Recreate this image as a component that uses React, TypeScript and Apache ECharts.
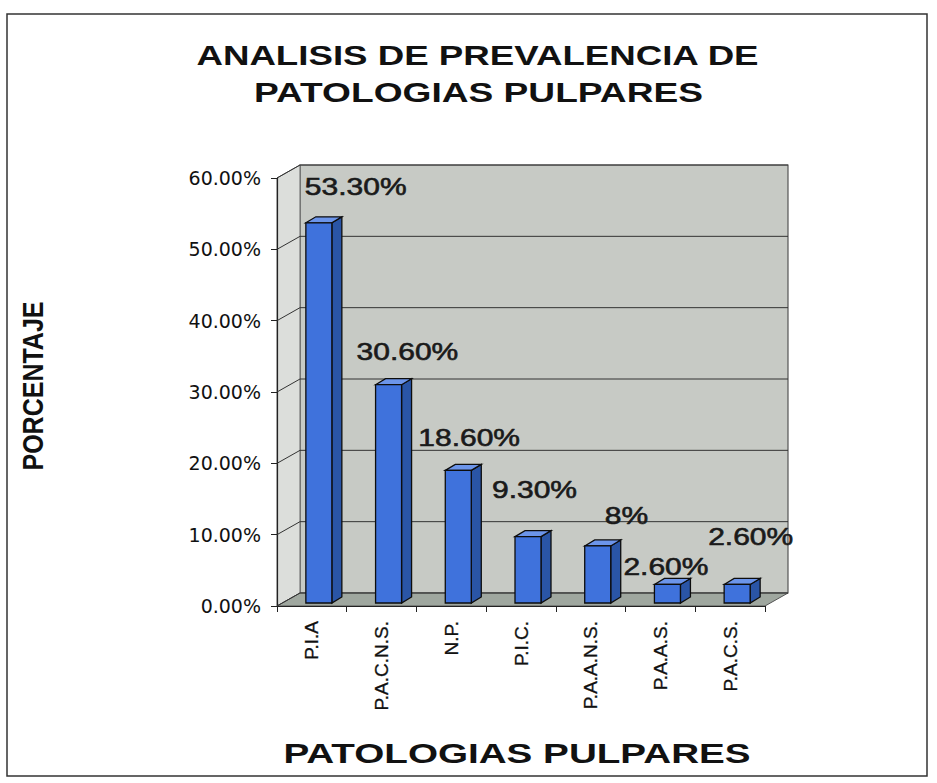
import React, { useEffect, useRef } from "react";
import * as echarts from "echarts";

const categories = ["P.I.A", "P.A.C.N.S.", "N.P.", "P.I.C.", "P.A.A.N.S.", "P.A.A.S.", "P.A.C.S."];
const values = [53.3, 30.6, 18.6, 9.3, 8, 2.6, 2.6];
const valueLabels = ["53.30%", "30.60%", "18.60%", "9.30%", "8%", "2.60%", "2.60%"];
const yTicks = [0, 10, 20, 30, 40, 50, 60];
const titleLines = ["ANALISIS DE PREVALENCIA DE", "PATOLOGIAS PULPARES"];
const yTitle = "PORCENTAJE";
const xTitle = "PATOLOGIAS PULPARES";

// layout only: label offsets (px) from each bar's top
const labelShift: number[][] = [[-7, -39], [-25, -36], [-33, -36], [-29, -50], [14, -33], [-37, -21], [-22, -51]];

const FONT = "'Liberation Sans', Arial, sans-serif";
const DX = 23;
const DY = -13;

export default function App() {
  const ref = useRef<HTMLDivElement>(null);
  useEffect(() => {
    if (!ref.current) return;
    const chart = echarts.init(ref.current, undefined, { renderer: "svg" });
    const option: any = {
      animation: false,
      backgroundColor: "#ffffff",
      grid: { left: 277, top: 178, width: 488, height: 428, containLabel: false },
      xAxis: {
        type: "category",
        data: categories,
        axisLine: { show: true, lineStyle: { color: "#222", width: 1.2 } },
        axisTick: { show: true, interval: 0, length: 6, lineStyle: { color: "#222" } },
        axisLabel: { rotate: 90, interval: 0, fontSize: 19, color: "#111", fontFamily: FONT, margin: 15, textBorderColor: "#111", textBorderWidth: 0.3 },
        splitLine: { show: false },
      },
      yAxis: {
        type: "value",
        min: 0,
        max: 60,
        interval: 10,
        axisLine: { show: true, lineStyle: { color: "#222", width: 1.2 } },
        axisTick: { show: true, length: 6, lineStyle: { color: "#222" } },
        axisLabel: { fontSize: 19, color: "#111", fontFamily: "'DejaVu Sans', sans-serif", margin: 16, formatter: (v: number) => v.toFixed(2) + "%" },
        splitLine: { show: false },
      },
      graphic: [
        { type: "rect", shape: { x: 7, y: 14, width: 920, height: 762 }, style: { fill: "none", stroke: "#333", lineWidth: 1.5 }, z: -10 },
        { type: "text", x: 477.5, y: 55.5, scaleX: 1.31, style: { text: titleLines[0], fontSize: 28, fontWeight: "bold", fontFamily: FONT, fill: "#111", align: "center", verticalAlign: "middle" } },
        { type: "text", x: 478.5, y: 92, scaleX: 1.326, style: { text: titleLines[1], fontSize: 28, fontWeight: "bold", fontFamily: FONT, fill: "#111", align: "center", verticalAlign: "middle" } },
        { type: "text", x: 33, y: 386, rotation: Math.PI / 2, scaleY: 1.2, style: { text: yTitle, fontSize: 25, fontWeight: "bold", fontFamily: FONT, fill: "#111", align: "center", verticalAlign: "middle" } },
        { type: "text", x: 517, y: 753, scaleX: 1.38, style: { text: xTitle, fontSize: 28, fontWeight: "bold", fontFamily: FONT, fill: "#111", align: "center", verticalAlign: "middle" } },
      ],
      series: [
        {
          type: "custom",
          name: "walls",
          z: 0,
          silent: true,
          data: [[0, 0]],
          renderItem: (params: any, api: any) => {
            const cs = params.coordSys;
            const x0 = cs.x, x1 = cs.x + cs.width, yT = cs.y, yB = cs.y + cs.height;
            return {
              type: "group",
              children: [
                { type: "rect", shape: { x: x0 + DX, y: yT + DY, width: cs.width, height: cs.height }, style: { fill: "#c7cac5", stroke: "#555", lineWidth: 1.2 } },
                { type: "polygon", shape: { points: [[x0, yB], [x0, yT], [x0 + DX, yT + DY], [x0 + DX, yB + DY]] }, style: { fill: "#dcdedb", stroke: "#666", lineWidth: 1 } },
                { type: "polygon", shape: { points: [[x0, yB], [x1, yB], [x1 + DX, yB + DY], [x0 + DX, yB + DY]] }, style: { fill: "#9fa79f", stroke: "#555", lineWidth: 1 } },
              ],
            };
          },
        },
        {
          type: "custom",
          name: "gridlines",
          z: 1,
          silent: true,
          data: yTicks.map((v) => [0, v]),
          renderItem: (params: any, api: any) => {
            const cs = params.coordSys;
            const x0 = cs.x, x1 = cs.x + cs.width;
            const y = api.coord([0, api.value(1)])[1];
            return {
              type: "group",
              children: [
                { type: "line", shape: { x1: x0, y1: y, x2: x0 + DX, y2: y + DY }, style: { stroke: "#333", lineWidth: 1 } },
                { type: "line", shape: { x1: x0 + DX, y1: y + DY, x2: x1 + DX, y2: y + DY }, style: { stroke: "#333", lineWidth: 1 } },
              ],
            };
          },
        },
        {
          type: "custom",
          name: "bars",
          z: 3,
          data: values.map((v, i) => [i, v]),
          renderItem: (params: any, api: any) => {
            const i = api.value(0);
            const v = api.value(1);
            const p = api.coord([i, v]);
            const cx = p[0];
            const yTop = p[1] - 3;
            const yBase = api.coord([i, 0])[1] - 3;
            const fx0 = cx - 6, fx1 = cx + 20;
            const bdx = 10, bdy = -6;
            const sh = labelShift[params.dataIndex] || [0, -20];
            return {
              type: "group",
              children: [
                { type: "polygon", shape: { points: [[fx1, yTop], [fx1 + bdx, yTop + bdy], [fx1 + bdx, yBase + bdy], [fx1, yBase]] }, style: { fill: "#2a55a6", stroke: "#0d0d0d", lineWidth: 1.3 } },
                { type: "polygon", shape: { points: [[fx0, yTop], [fx0 + bdx, yTop + bdy], [fx1 + bdx, yTop + bdy], [fx1, yTop]] }, style: { fill: "#6c95ea", stroke: "#0d0d0d", lineWidth: 1.3 } },
                { type: "rect", shape: { x: fx0, y: yTop, width: fx1 - fx0, height: yBase - yTop }, style: { fill: "#3f72dc", stroke: "#0d0d0d", lineWidth: 1.3 } },
                {
                  type: "text",
                  x: cx + sh[0],
                  y: p[1] + sh[1],
                  scaleX: 1.25,
                  style: { text: valueLabels[params.dataIndex], fontSize: 24, fontFamily: FONT, fill: "#1a1a1a", stroke: "#1a1a1a", lineWidth: 0.6, align: "left", verticalAlign: "middle" },
                },
              ],
            };
          },
        },
      ],
    };
    chart.setOption(option);
    return () => chart.dispose();
  }, []);
  return <div ref={ref} style={{ position: "fixed", left: 0, top: 0, width: 937, height: 783 }} />;
}
